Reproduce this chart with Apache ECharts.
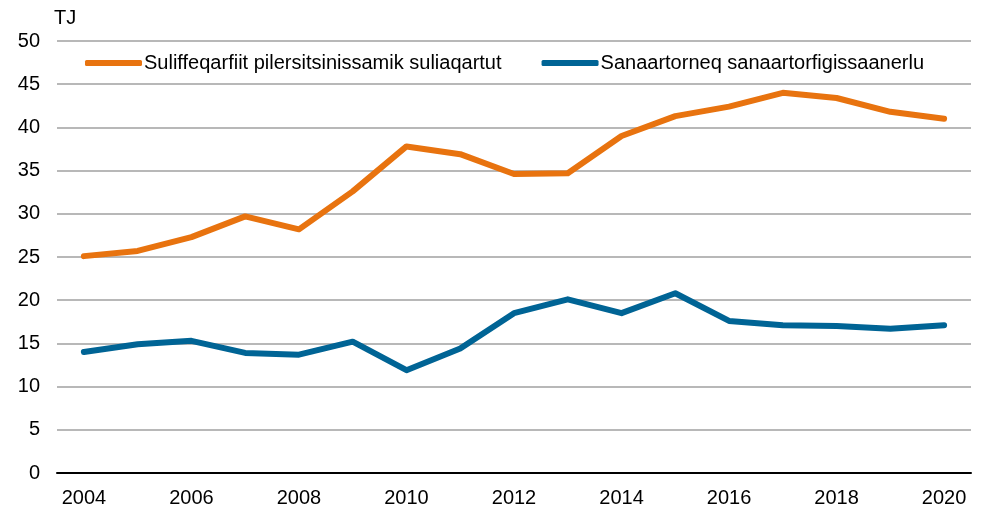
<!DOCTYPE html>
<html>
<head>
<meta charset="utf-8">
<script src="https://cdn.jsdelivr.net/npm/echarts@6/dist/echarts.min.js"></script>
<style>
  html, body { margin: 0; padding: 0; background: #fff; }
  #chart { width: 984px; height: 512px; }
</style>
</head>
<body>
<div id="chart"></div>
<script>
// data
var years = ['2004', '2005', '2006', '2007', '2008', '2009', '2010', '2011', '2012',
    '2013', '2014', '2015', '2016', '2017', '2018', '2019', '2020'];
var suliffeqarfiit = [25.1, 25.7, 27.3, 29.7, 28.2, 32.6, 37.8, 36.9, 34.6,
    34.7, 39.0, 41.3, 42.4, 44.0, 43.4, 41.8, 41.0];
var sanaartorneq = [14.0, 14.9, 15.3, 13.9, 13.7, 15.2, 11.9, 14.4, 18.5,
    20.1, 18.5, 20.8, 17.6, 17.1, 17.0, 16.7, 17.1];
var seriesNames = ['Suliffeqarfiit pilersitsinissamik suliaqartut', 'Sanaartorneq sanaartorfigissaanerlu'];

var font = 'Liberation Sans, Arial, sans-serif';
var chart = echarts.init(document.getElementById('chart'));

chart.setOption({
    animation: false,
    textStyle: { fontFamily: font },
    color: ['#E8730F', '#006495'],
    grid: { left: 57, right: 13, top: 41, bottom: 39, containLabel: false },
    legend: {
        top: 48,
        left: 80,
        itemWidth: 57,
        itemHeight: 6,
        itemGap: 40,
        icon: 'roundRect',
        textStyle: { fontSize: 20, color: '#000', fontFamily: font, padding: [0, 0, 0, -3] },
        data: seriesNames
    },
    xAxis: {
        type: 'category',
        data: years,
        boundaryGap: true,
        axisLine: { lineStyle: { color: '#000', width: 2 } },
        axisTick: { show: false },
        axisLabel: { interval: 1, fontSize: 20, color: '#000', margin: 15, fontFamily: font }
    },
    yAxis: {
        type: 'value',
        min: 0,
        max: 50,
        interval: 5,
        name: 'TJ',
        nameLocation: 'end',
        nameGap: 13,
        nameTextStyle: { fontSize: 20, color: '#000', align: 'left', padding: [0, 0, 0, -3], fontFamily: font },
        axisLine: { show: false },
        axisTick: { show: false },
        axisLabel: { fontSize: 20, color: '#000', margin: 17, fontFamily: font },
        splitLine: { lineStyle: { color: '#A0A0A0', width: 1.5 } }
    },
    series: [
        {
            name: seriesNames[0],
            type: 'line',
            data: suliffeqarfiit,
            symbol: 'none',
            lineStyle: { width: 6, cap: 'round', join: 'round' }
        },
        {
            name: seriesNames[1],
            type: 'line',
            data: sanaartorneq,
            symbol: 'none',
            lineStyle: { width: 6, cap: 'round', join: 'round' }
        }
    ]
});
</script>
</body>
</html>
